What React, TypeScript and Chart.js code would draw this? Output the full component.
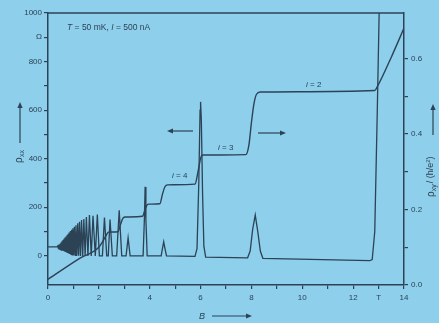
import React, { useEffect, useRef } from "react";
import { Chart, registerables } from "chart.js";
Chart.register(...registerables);

// ρxx (left axis, Ω) versus B (T)
const rhoXxB = [
  0, 0.35,
  0.39, 0.41, 0.43, 0.45, 0.47, 0.49, 0.51, 0.53, 0.55, 0.57, 0.59, 0.61, 0.63, 0.65,
  0.67, 0.69, 0.71, 0.73, 0.75, 0.77, 0.79, 0.81, 0.83, 0.855, 0.88, 0.905, 0.93, 0.955,
  0.98, 1.01, 1.04, 1.07, 1.1, 1.135, 1.17, 1.205, 1.24, 1.28, 1.32, 1.365, 1.41, 1.46,
  1.51, 1.57, 1.63, 1.7, 1.77, 1.86, 1.94, 2.02, 2.14, 2.22, 2.31, 2.37, 2.44, 2.53,
  2.7, 2.8, 2.9, 3.07, 3.15, 3.23, 3.74, 3.79, 3.82, 3.85, 3.9, 4.45, 4.5, 4.55, 4.6, 4.66,
  5.78, 5.86, 5.93, 5.98, 6.0, 6.03, 6.08, 6.13, 6.2, 7.85, 7.95, 8.05, 8.15, 8.25, 8.35,
  8.45, 12.65, 12.75, 12.85, 12.95, 13.05,
];
const rhoXxOhm = [
  37, 37,
  42, 30, 46, 28, 50, 26, 55, 24, 60, 22, 65, 20, 70, 18,
  75, 16, 80, 14, 85, 12, 90, 10, 96, 8, 102, 6, 108, 4,
  114, 3, 120, 2, 126, 1, 134, 0, 140, 0, 148, 0, 152, 0,
  160, 0, 168, 0, 165, 0, 170, 0, 0, 158, 0, 0, 150, 0,
  0, 188, 0, 0, 74, 0, 0, 150, 284, 150, 0, 0, 30, 58, 30, 0,
  -2, 30, 300, 600, 634, 560, 250, 40, -5, -8, 20, 110, 168, 100, 20,
  -10, -20, -15, 100, 600, 1150,
];

// ρxy (right axis, h/e²) versus B (T)
const rhoXyB = [
  0, 1.26, 2.0, 2.15, 2.3, 2.38, 2.75, 2.85, 2.95, 3.05, 3.72, 3.8, 3.88, 3.95, 4.4,
  4.5, 4.6, 4.7, 5.78, 5.9, 6.0, 6.08, 7.78, 7.9, 8.0, 8.1, 8.2, 8.35, 12.85, 12.95, 13.5, 14,
];
const rhoXyH = [
  0.015, 0.071, 0.1, 0.115, 0.133, 0.14, 0.141, 0.16, 0.177, 0.18, 0.182, 0.196, 0.21, 0.214, 0.215,
  0.24, 0.26, 0.265, 0.267, 0.3, 0.335, 0.344, 0.345, 0.37, 0.43, 0.48, 0.505, 0.511, 0.515, 0.525, 0.603, 0.68,
];

const xTickValues = [0, 1, 2, 3, 4, 5, 6, 7, 8, 9, 10, 11, 12, 13, 14];
const leftTickValues = [0, 100, 200, 300, 400, 500, 600, 700, 800, 900, 1000];
const rightTickValues = [0, 0.1, 0.2, 0.3, 0.4, 0.5, 0.6];

const BG = "#8ecfec";
const INK = "#2c4255";
const FONT = "'Liberation Sans', Arial, sans-serif";

function drawArrow(ctx: CanvasRenderingContext2D, x1: number, y1: number, x2: number, y2: number) {
  const ang = Math.atan2(y2 - y1, x2 - x1);
  const hl = 6, hw = 2.6;
  ctx.beginPath();
  ctx.moveTo(x1, y1);
  ctx.lineTo(x2 - Math.cos(ang) * hl * 0.8, y2 - Math.sin(ang) * hl * 0.8);
  ctx.stroke();
  ctx.beginPath();
  ctx.moveTo(x2, y2);
  ctx.lineTo(x2 - Math.cos(ang) * hl - Math.sin(ang) * hw, y2 - Math.sin(ang) * hl + Math.cos(ang) * hw);
  ctx.lineTo(x2 - Math.cos(ang) * hl + Math.sin(ang) * hw, y2 - Math.sin(ang) * hl - Math.cos(ang) * hw);
  ctx.closePath();
  ctx.fill();
}

function drawSegments(ctx: CanvasRenderingContext2D, x: number, y: number, segs: [string, string][]) {
  let cx = x;
  for (const [txt, font] of segs) {
    ctx.font = font;
    ctx.fillText(txt, cx, y);
    cx += ctx.measureText(txt).width;
  }
}

const decor = {
  id: "decor",
  beforeDraw(chart: any) {
    const c = chart.ctx;
    c.save();
    c.fillStyle = BG;
    c.fillRect(0, 0, chart.width, chart.height);
    c.restore();
  },
  afterDraw(chart: any) {
    const c: CanvasRenderingContext2D = chart.ctx;
    const a = chart.chartArea;
    c.save();
    c.strokeStyle = INK;
    c.fillStyle = INK;
    c.lineWidth = 1.5;
    // top frame line
    c.beginPath();
    c.moveTo(a.left, a.top);
    c.lineTo(a.right, a.top);
    c.stroke();

    c.textBaseline = "middle";
    c.textAlign = "left";
    // condition text
    drawSegments(c, 67, 28, [
      ["T", `italic 8.5px ${FONT}`],
      [" = 50 mK, ", `8.5px ${FONT}`],
      ["I", `italic 8.5px ${FONT}`],
      [" = 500 nA", `8.5px ${FONT}`],
    ]);
    // plateau labels
    const iLabel = (x: number, y: number, n: string) =>
      drawSegments(c, x, y, [["i", `italic 8px ${FONT}`], [" = " + n, `8px ${FONT}`]]);
    iLabel(172, 176, "4");
    iLabel(218, 148, "3");
    iLabel(306, 85, "2");

    // direction arrows in the plot
    c.lineWidth = 1.2;
    drawArrow(c, 193, 131, 167, 131);
    drawArrow(c, 258, 133, 286, 133);

    // x-axis title
    c.font = `italic 9px ${FONT}`;
    c.textAlign = "center";
    c.fillText("B", 202, 316);
    drawArrow(c, 212, 316, 252, 316);

    // left axis title
    c.save();
    c.translate(19, 156);
    c.rotate(-Math.PI / 2);
    c.textAlign = "left";
    drawSegments(c, -7, 0, [["ρ", `10px ${FONT}`]]);
    c.font = `7px ${FONT}`;
    c.fillText("xx", -1, 3);
    c.restore();
    drawArrow(c, 20, 143, 20, 102);

    // right axis title
    c.save();
    c.translate(431, 170);
    c.rotate(-Math.PI / 2);
    c.textAlign = "left";
    c.font = `10px ${FONT}`;
    let x0 = -27;
    c.fillText("ρ", x0, 0);
    x0 += c.measureText("ρ").width;
    c.font = `7px ${FONT}`;
    c.fillText("xy", x0, 3);
    x0 += c.measureText("xy").width + 1;
    c.font = `9px ${FONT}`;
    c.fillText("/ (h/e", x0, 0);
    x0 += c.measureText("/ (h/e").width;
    c.font = `6px ${FONT}`;
    c.fillText("2", x0, -3);
    x0 += c.measureText("2").width;
    c.font = `9px ${FONT}`;
    c.fillText(")", x0, 0);
    c.restore();
    drawArrow(c, 433, 135, 433, 104);
    c.restore();
  },
};

export default function App() {
  const ref = useRef<HTMLCanvasElement>(null);
  useEffect(() => {
    document.body.style.margin = "0";
    const tickFont = { family: FONT, size: 8 };
    const chart = new Chart(ref.current!, {
      type: "line",
      data: {
        datasets: [
          {
            label: "rho_xx",
            data: rhoXxB.map((b, i) => ({ x: b, y: rhoXxOhm[i] })),
            yAxisID: "y",
            borderColor: INK,
            borderWidth: 1.3,
            pointRadius: 0,
            tension: 0,
          },
          {
            label: "rho_xy",
            data: rhoXyB.map((b, i) => ({ x: b, y: rhoXyH[i] })),
            yAxisID: "y1",
            borderColor: INK,
            borderWidth: 1.4,
            pointRadius: 0,
            cubicInterpolationMode: "monotone",
          },
        ],
      },
      options: {
        responsive: false,
        animation: false,
        layout: { padding: { top: 13, left: 0, right: 0, bottom: 0 } },
        plugins: { legend: { display: false }, tooltip: { enabled: false } },
        scales: {
          x: {
            type: "linear",
            min: 0,
            max: 14,
            afterBuildTicks: (s: any) => {
              s.ticks = xTickValues.map((v) => ({ value: v }));
            },
            afterFit: (s: any) => {
              s.height = 38;
            },
            ticks: {
              autoSkip: false,
              maxRotation: 0,
              padding: 4,
              color: INK,
              font: tickFont,
              callback: (v: any) => (v === 13 ? "T" : v % 2 === 0 ? String(v) : ""),
            },
            grid: { drawOnChartArea: false, drawTicks: true, tickLength: 4, color: INK, lineWidth: 1.2 },
            border: { display: true, color: INK, width: 1.5 },
          },
          y: {
            type: "linear",
            position: "left",
            min: -120,
            max: 1000,
            afterBuildTicks: (s: any) => {
              s.ticks = leftTickValues.map((v) => ({ value: v }));
            },
            afterFit: (s: any) => {
              s.width = 48;
            },
            ticks: {
              autoSkip: false,
              padding: 2,
              color: INK,
              font: tickFont,
              callback: (v: any) => (v === 900 ? "Ω" : v % 200 === 0 ? String(v) : ""),
            },
            grid: { drawOnChartArea: false, drawTicks: true, tickLength: 4, color: INK, lineWidth: 1.2 },
            border: { display: true, color: INK, width: 1.5 },
          },
          y1: {
            type: "linear",
            position: "right",
            min: 0,
            max: 0.72,
            afterBuildTicks: (s: any) => {
              s.ticks = rightTickValues.map((v) => ({ value: v }));
            },
            afterFit: (s: any) => {
              s.width = 35;
            },
            ticks: {
              autoSkip: false,
              padding: 3,
              color: INK,
              font: tickFont,
              callback: (v: any) => (Math.round(v * 10) % 2 === 0 ? Number(v).toFixed(1) : ""),
            },
            grid: { drawOnChartArea: false, drawTicks: true, tickLength: 4, color: INK, lineWidth: 1.2 },
            border: { display: true, color: INK, width: 1.5 },
          },
        },
      },
      plugins: [decor],
    } as any);
    return () => chart.destroy();
  }, []);
  return (
    <div style={{ width: 439, height: 323, background: BG }}>
      <canvas ref={ref} width={439} height={323} style={{ display: "block", width: 439, height: 323 }} />
    </div>
  );
}
